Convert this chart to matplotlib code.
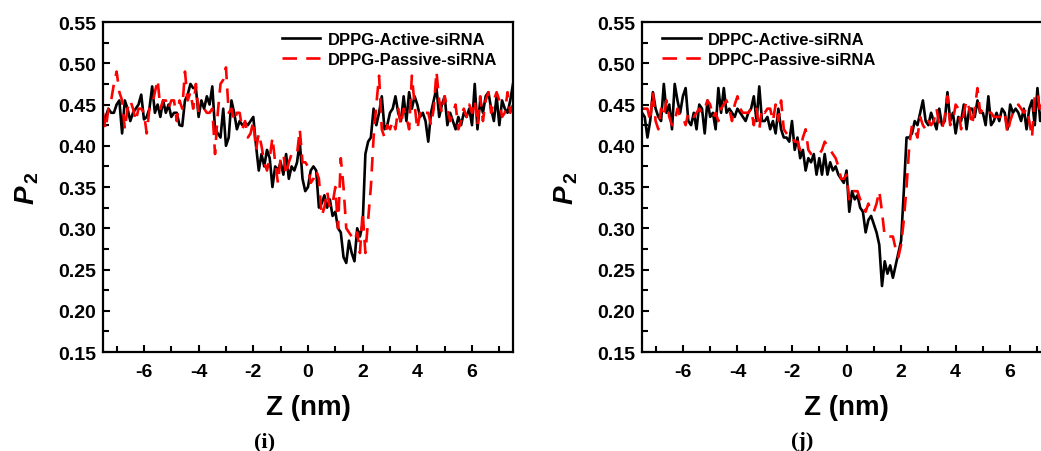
import matplotlib

matplotlib.use("Agg")
import matplotlib.pyplot as plt
import numpy as np
from matplotlib.ticker import MultipleLocator

plt.rcParams["font.family"] = ["Liberation Sans", "DejaVu Sans"]
plt.rcParams["font.weight"] = "bold"
plt.rcParams["mathtext.fontset"] = "custom"
plt.rcParams["mathtext.rm"] = "Liberation Sans:bold"
plt.rcParams["mathtext.it"] = "Liberation Sans:bold:italic"
plt.rcParams["mathtext.bf"] = "Liberation Sans:bold"

# z positions (nm), 0.1 nm bins
z = np.round(np.arange(-7.5, 7.5001, 0.1), 1)

dppg_active = [
    0.425, 0.435, 0.445, 0.44, 0.44, 0.45, 0.455, 0.415, 0.455, 0.445,
    0.43, 0.44, 0.445, 0.45, 0.462, 0.432, 0.435, 0.445, 0.472, 0.44,
    0.45, 0.435, 0.455, 0.44, 0.45, 0.435, 0.44, 0.44, 0.425, 0.424,
    0.455, 0.462, 0.475, 0.47, 0.47, 0.435, 0.455, 0.445, 0.46, 0.45,
    0.472, 0.42, 0.415, 0.41, 0.445, 0.40, 0.41, 0.455, 0.44, 0.42,
    0.43, 0.425, 0.428, 0.425, 0.43, 0.435, 0.40, 0.37, 0.39, 0.375,
    0.395, 0.385, 0.35, 0.375, 0.37, 0.38, 0.365, 0.39, 0.36, 0.375,
    0.37, 0.38, 0.405, 0.36, 0.345, 0.35, 0.37, 0.375, 0.37, 0.325,
    0.33, 0.34, 0.325, 0.335, 0.315, 0.32, 0.30, 0.295, 0.265, 0.258,
    0.285, 0.27, 0.26, 0.30, 0.29, 0.305, 0.39, 0.405, 0.41, 0.445,
    0.425, 0.44, 0.46, 0.42, 0.425, 0.44, 0.445, 0.46, 0.44, 0.43,
    0.46, 0.43, 0.465, 0.445, 0.46, 0.45, 0.435, 0.44, 0.43, 0.405,
    0.44, 0.455, 0.47, 0.435, 0.45, 0.46, 0.425, 0.44, 0.43, 0.42,
    0.435, 0.425, 0.44, 0.435, 0.445, 0.425, 0.475, 0.42, 0.455, 0.44,
    0.46, 0.465, 0.445, 0.43, 0.46, 0.425, 0.455, 0.445, 0.44, 0.455,
    0.475,
]

dppg_passive = [
    0.44, 0.42, 0.445, 0.455, 0.475, 0.49, 0.465, 0.455, 0.42, 0.445,
    0.455, 0.445, 0.43, 0.445, 0.445, 0.44, 0.415, 0.445, 0.45, 0.465,
    0.48, 0.445, 0.455, 0.455, 0.445, 0.455, 0.455, 0.43, 0.455, 0.445,
    0.49, 0.455, 0.465, 0.445, 0.475, 0.44, 0.445, 0.445, 0.44, 0.44,
    0.445, 0.39, 0.44, 0.475, 0.48, 0.495, 0.44, 0.445, 0.43, 0.44,
    0.44, 0.42, 0.43, 0.41, 0.415, 0.43, 0.395, 0.415, 0.40, 0.38,
    0.37, 0.385, 0.41, 0.38, 0.355, 0.385, 0.39, 0.365, 0.38, 0.39,
    0.39, 0.39, 0.42, 0.38, 0.38, 0.375, 0.355, 0.36, 0.37, 0.36,
    0.315, 0.325, 0.345, 0.325, 0.33, 0.35, 0.30, 0.385, 0.35, 0.30,
    0.295, 0.29, 0.285, 0.295, 0.27, 0.32, 0.27, 0.31, 0.35, 0.41,
    0.45, 0.485, 0.42, 0.41, 0.425, 0.42, 0.43, 0.42, 0.445, 0.425,
    0.445, 0.435, 0.42, 0.485, 0.45, 0.42, 0.44, 0.445, 0.44, 0.44,
    0.425, 0.445, 0.49, 0.455, 0.44, 0.46, 0.445, 0.43, 0.44, 0.45,
    0.42, 0.43, 0.445, 0.435, 0.45, 0.44, 0.455, 0.425, 0.46, 0.43,
    0.455, 0.465, 0.44, 0.455, 0.465, 0.455, 0.435, 0.44, 0.465, 0.44,
    0.45,
]

dppc_active = [
    0.44, 0.435, 0.41, 0.43, 0.465, 0.445, 0.435, 0.43, 0.475, 0.44,
    0.45, 0.42, 0.475, 0.455, 0.44, 0.46, 0.47, 0.43, 0.425, 0.44,
    0.42, 0.45, 0.445, 0.415, 0.455, 0.435, 0.44, 0.42, 0.47, 0.44,
    0.47, 0.44, 0.445, 0.44, 0.435, 0.445, 0.44, 0.435, 0.43, 0.44,
    0.445, 0.46, 0.43, 0.472, 0.43, 0.43, 0.435, 0.42, 0.43, 0.415,
    0.445, 0.42, 0.41, 0.41, 0.405, 0.43, 0.395, 0.41, 0.385, 0.395,
    0.37, 0.385, 0.38, 0.39, 0.365, 0.385, 0.365, 0.39, 0.365, 0.38,
    0.37, 0.375, 0.365, 0.36, 0.355, 0.37, 0.32, 0.345, 0.335, 0.34,
    0.325, 0.32, 0.295, 0.31, 0.315, 0.305, 0.295, 0.28, 0.23, 0.26,
    0.245, 0.255, 0.24, 0.255, 0.27, 0.285, 0.345, 0.41, 0.41, 0.415,
    0.43, 0.425, 0.44, 0.455, 0.43, 0.425, 0.44, 0.43, 0.42, 0.445,
    0.425, 0.43, 0.465, 0.43, 0.44, 0.415, 0.435, 0.43, 0.45, 0.42,
    0.445, 0.445, 0.435, 0.455, 0.44, 0.44, 0.425, 0.46, 0.425, 0.43,
    0.44, 0.43, 0.445, 0.44, 0.42, 0.45, 0.44, 0.445, 0.44, 0.43,
    0.445, 0.42, 0.445, 0.455, 0.425, 0.47, 0.43, 0.445, 0.44, 0.455,
    0.445,
]

dppc_passive = [
    0.445, 0.445, 0.445, 0.43, 0.465, 0.43, 0.42, 0.445, 0.435, 0.455,
    0.435, 0.425, 0.43, 0.445, 0.435, 0.435, 0.425, 0.44, 0.44, 0.435,
    0.44, 0.445, 0.44, 0.445, 0.455, 0.45, 0.435, 0.44, 0.43, 0.445,
    0.45, 0.455, 0.445, 0.43, 0.45, 0.46, 0.445, 0.44, 0.44, 0.44,
    0.445, 0.425, 0.445, 0.42, 0.445, 0.44, 0.445, 0.445, 0.43, 0.45,
    0.43, 0.455, 0.42, 0.415, 0.41, 0.41, 0.405, 0.405, 0.395, 0.41,
    0.42, 0.395, 0.39, 0.39, 0.39, 0.39, 0.395, 0.405, 0.40, 0.395,
    0.39, 0.385, 0.375, 0.36, 0.36, 0.365, 0.335, 0.345, 0.345, 0.345,
    0.335, 0.33, 0.32, 0.33, 0.32, 0.32, 0.33, 0.345, 0.32, 0.29,
    0.29, 0.29, 0.29, 0.275, 0.265, 0.28, 0.31, 0.35, 0.40, 0.425,
    0.42, 0.41, 0.435, 0.425, 0.42, 0.43, 0.425, 0.43, 0.445, 0.425,
    0.42, 0.435, 0.46, 0.425, 0.43, 0.45, 0.445, 0.42, 0.44, 0.455,
    0.445, 0.425, 0.445, 0.47, 0.44, 0.445, 0.44, 0.44, 0.44, 0.435,
    0.435, 0.435, 0.435, 0.44, 0.415, 0.43, 0.44, 0.445, 0.45, 0.445,
    0.44, 0.445, 0.43, 0.41, 0.46, 0.465, 0.44, 0.455, 0.45, 0.455,
    0.45,
]

panels = [
    ("DPPG", dppg_active, dppg_passive, "(i)", "upper right", (0.985, 1.0)),
    ("DPPC", dppc_active, dppc_passive, "(j)", "upper left", (0.025, 1.0)),
]

fig = plt.figure(figsize=(10.41, 4.52), dpi=100)
# right panel runs off the canvas like in the source figure
positions = [[0.0989, 0.219, 0.3939, 0.730], [0.6167, 0.219, 0.3930, 0.730]]
label_x = [0.254, 0.771]

for pos, (lipid, active, passive, tag, loc, anchor), lx in zip(positions, panels, label_x):
    ax = fig.add_axes(pos)
    ax.plot(z, active, color="black", lw=1.9, label=f"{lipid}-Active-siRNA")
    ax.plot(z, passive, color="#ff0000", lw=1.9, dashes=(5.5, 3.5),
            label=f"{lipid}-Passive-siRNA")
    ax.set_xlim(-7.5, 7.5)
    ax.set_ylim(0.15, 0.55)
    ax.xaxis.set_major_locator(MultipleLocator(2))
    ax.xaxis.set_minor_locator(MultipleLocator(1))
    ax.yaxis.set_major_locator(MultipleLocator(0.05))
    ax.yaxis.set_minor_locator(MultipleLocator(0.025))
    ax.xaxis.set_major_formatter(plt.FuncFormatter(lambda v, p: f"{v:.0f}"))
    ax.yaxis.set_major_formatter(plt.FuncFormatter(lambda v, p: f"{v:.2f}"))
    ax.tick_params(which="both", direction="in", width=1.5, labelsize=14)
    ax.tick_params(which="major", length=5)
    ax.tick_params(which="minor", length=4)
    ax.tick_params(axis="x", pad=8)
    ax.tick_params(axis="y", pad=5)
    for sp in ax.spines.values():
        sp.set_linewidth(1.6)
    ax.set_xlabel("Z (nm)", fontsize=20, fontweight="bold", labelpad=10)
    ax.set_ylabel(r"$P_{\,\mathrm{2}}$", fontsize=20, labelpad=12)
    ax.legend(loc=loc, bbox_to_anchor=anchor, frameon=False, fontsize=12,
              handlelength=2.3, handletextpad=0.45, labelspacing=0.3,
              borderaxespad=0.2)
    fig.text(lx, 0.0, tag, ha="center", va="bottom", fontsize=16,
             family="Liberation Serif", fontweight="bold")

fig.savefig("out.png", dpi=100)
